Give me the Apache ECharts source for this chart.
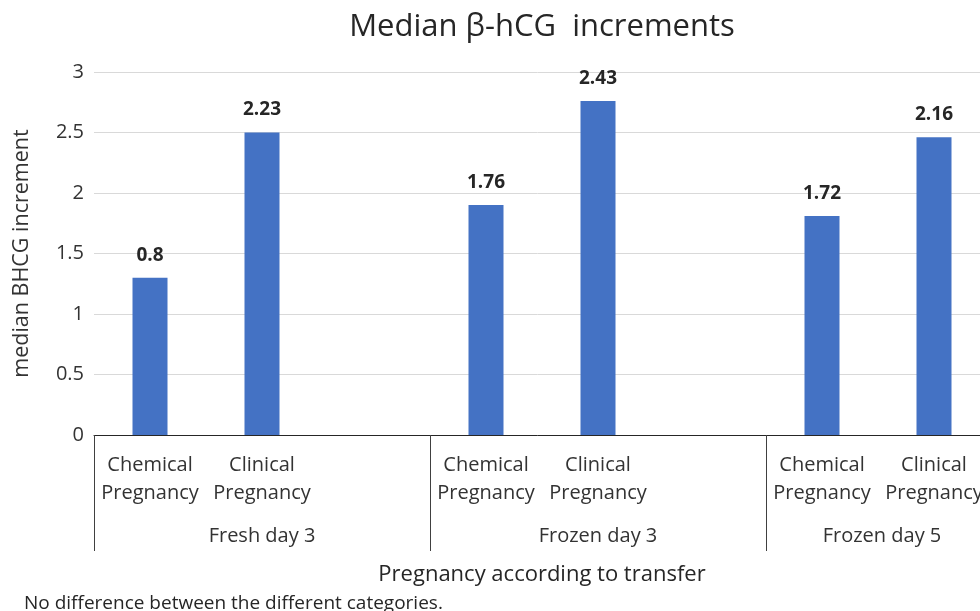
<!DOCTYPE html>
<html>
<head>
<meta charset="utf-8">
<script src="https://cdn.jsdelivr.net/npm/echarts@6/dist/echarts.min.js"></script>
<style>html,body{margin:0;padding:0;background:#fff;}#c{width:980px;height:611px;}</style>
</head>
<body>
<div id="c"></div>
<script>
var categories = ['Chemical\nPregnancy', 'Clinical\nPregnancy', '', 'Chemical\nPregnancy', 'Clinical\nPregnancy', '', 'Chemical\nPregnancy', 'Clinical\nPregnancy', ''];
var groups = ['Fresh day 3', 'Frozen day 3', 'Frozen day 5'];
var barValues = [1.30, 2.50, '-', 1.90, 2.76, '-', 1.81, 2.46, '-'];
var barLabels = ['0.8', '2.23', '', '1.76', '2.43', '', '1.72', '2.16', ''];
var yTicks = [0, 0.5, 1, 1.5, 2, 2.5, 3];

var FONT = '"Open Sans", sans-serif';
var TXT = '#333333';
var chart = echarts.init(document.getElementById('c'), null, {renderer: 'canvas'});
chart.setOption({
  animation: false,
  backgroundColor: '#fff',
  textStyle: {fontFamily: FONT},
  title: [
    {text: 'Median \u03b2-hCG  increments', left: 537, textAlign: 'center', top: 7,
     textStyle: {fontSize: 31, fontWeight: 'normal', color: '#262626', fontFamily: FONT}},
    {text: 'Pregnancy according to transfer', left: 537, textAlign: 'center', top: 559,
     textStyle: {fontSize: 22, fontWeight: 'normal', color: '#262626', fontFamily: FONT}},
    {text: 'No difference between the different categories.', left: 19, top: 589,
     textStyle: {fontSize: 19, fontWeight: 'normal', color: '#262626', fontFamily: FONT}}
  ],
  grid: {left: 94, top: 72, height: 363, width: 1008, containLabel: false, outerBoundsMode: 'none'},
  xAxis: [
    {type: 'category', data: categories, position: 'bottom',
     axisLine: {show: true, lineStyle: {color: '#262626', width: 1}},
     axisTick: {show: false},
     axisLabel: {interval: 0, margin: 16, fontSize: 20, lineHeight: 28, color: TXT, fontFamily: FONT}},
    {type: 'category', data: groups, position: 'bottom',
     axisLine: {show: false},
     axisTick: {show: true, length: 116, lineStyle: {color: '#404040', width: 1}},
     axisLabel: {interval: 0, margin: 91, fontSize: 20, color: TXT, fontFamily: FONT,
       formatter: function (v, i) { return i === groups.length - 1 ? '{s|' + v + '}' : v; },
       rich: {s: {fontSize: 20, color: TXT, fontFamily: FONT, padding: [0, 104, 0, 0]}}}}
  ],
  yAxis: {type: 'value', min: yTicks[0], max: yTicks[yTicks.length - 1], interval: 0.5,
    name: 'median BHCG increment', nameLocation: 'middle', nameRotate: 90, nameGap: 61,
    nameTextStyle: {fontSize: 21.5, color: TXT, fontFamily: FONT},
    axisLine: {show: false}, axisTick: {show: false},
    axisLabel: {fontSize: 20, color: TXT, margin: 10, fontFamily: FONT},
    splitLine: {lineStyle: {color: '#d9d9d9', width: 1}}},
  series: [{
    type: 'bar', xAxisIndex: 0, barWidth: 35,
    data: barValues,
    itemStyle: {color: '#4472C4'},
    label: {show: true, position: 'top', distance: 13, fontSize: 19, fontWeight: 'bold', color: '#262626', fontFamily: FONT,
      formatter: function (p) { return barLabels[p.dataIndex]; }}
  }]
});
</script>
</body>
</html>
